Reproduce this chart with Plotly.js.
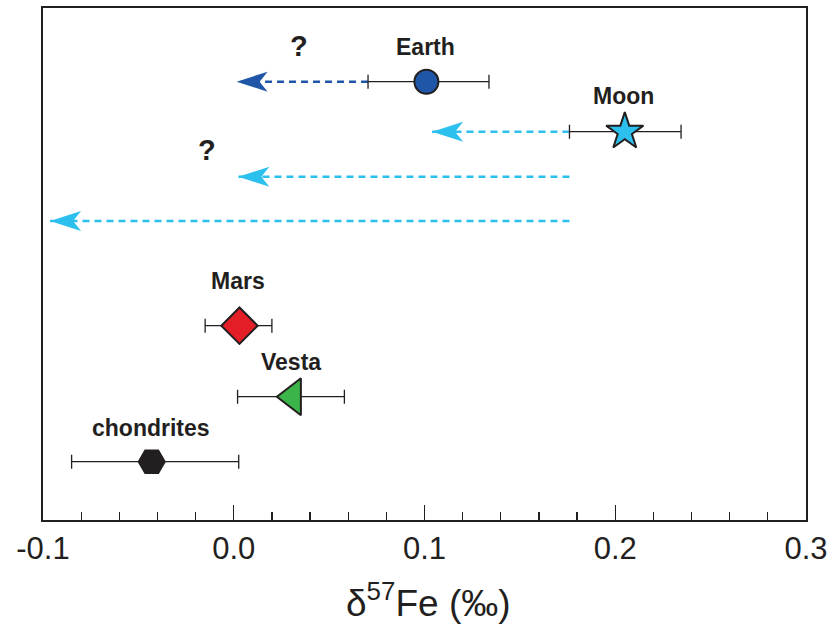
<!DOCTYPE html>
<html><head><meta charset="utf-8">
<script src="https://cdn.plot.ly/plotly-3.0.1.min.js"></script>
<style>body{margin:0;background:#fff}</style>
</head><body><div id="chart" style="width:832px;height:635px"></div>
<script>
// Bodies with measured δ57Fe and error bars
const bodies = ['Earth', 'Moon', 'Mars', 'Vesta', 'chondrites'];
const bodyValue = [0.101, 0.205, 0.003, 0.031, -0.043];
const errMinus = [0.0306, 0.029, 0.018, 0.029, 0.042];
const errPlus = [0.0328, 0.0295, 0.017, 0.027, 0.0456];
const bodyRow = [73.7, 123.7, 317.7, 388.7, 453.7];
const bodyColor = ['#1f56a8', '#2bc0ee', '#e31e26', '#3bb44a', '#231f20'];
const bodySymbol = ['circle', 'star', 'diamond', 'triangle-left', 'hexagon2'];
const bodySize = [24, 28, 28, 32, 26];

// Dashed arrows (possible shifts)
const arrowFrom = [0.0704, 0.176, 0.176, 0.176];
const arrowTo = [0.0015, 0.104, 0.0024, -0.0963];
const arrowRow = [73.7, 123.7, 168.7, 213];
const arrowColor = ['#1f56a8', '#2bc0ee', '#2bc0ee', '#2bc0ee'];

// Question marks
const qX = [0.034, -0.014];
const qRow = [73.7, 168.7];
const qShift = [36, 27];

// Axis ticks and title
const tickVals = [-0.1, 0.0, 0.1, 0.2, 0.3];
const tickText = ['-0.1', '0.0', '0.1', '0.2', '0.3'];
const xTitle = 'δ<sup>57</sup>Fe (‰)';

const traces = [];
for (let i = 0; i < arrowFrom.length; i++) {
  traces.push({
    type: 'scatter', mode: 'lines',
    x: [arrowFrom[i], arrowTo[i]], y: [arrowRow[i], arrowRow[i]],
    line: {color: arrowColor[i], width: 2.6, dash: '7px,5px'},
    hoverinfo: 'skip', showlegend: false
  });
}
for (let i = 0; i < bodies.length; i++) {
  traces.push({
    type: 'scatter', mode: 'markers',
    x: [bodyValue[i]], y: [bodyRow[i]], name: bodies[i],
    error_x: {type: 'data', symmetric: false, array: [errPlus[i]], arrayminus: [errMinus[i]],
              color: '#231f20', thickness: 1.3, width: 7},
    marker: {symbol: bodySymbol[i], size: bodySize[i], color: bodyColor[i],
             line: {color: '#231f20', width: 2}},
    showlegend: false
  });
}

const shapes = arrowTo.map((t, i) => ({
  type: 'path', xref: 'x', yref: 'y',
  xsizemode: 'pixel', ysizemode: 'pixel',
  xanchor: t, yanchor: arrowRow[i],
  path: 'M0,0 L31,10 L23,0 L31,-10 Z',
  fillcolor: arrowColor[i], line: {width: 0}
}));

const annotations = [];
const labelShift = [35, 36, 45, 35, 34];
for (let i = 0; i < bodies.length; i++) {
  annotations.push({
    x: bodyValue[i], y: bodyRow[i], xref: 'x', yref: 'y', text: '<b>' + bodies[i] + '</b>',
    showarrow: false, yshift: labelShift[i], xshift: (i === 3 ? -2 : -1),
    font: {family: 'Liberation Sans, Arial, sans-serif', size: 23, color: '#231f20'}
  });
}
for (let i = 0; i < qX.length; i++) {
  annotations.push({
    x: qX[i], y: qRow[i], xref: 'x', yref: 'y', text: '<b>?</b>', showarrow: false,
    yshift: qShift[i], font: {family: 'Liberation Sans, Arial, sans-serif', size: 29, color: '#231f20'}
  });
}
annotations.push({
  xref: 'paper', yref: 'paper', x: 0.505, y: -0.158, xanchor: 'center', yanchor: 'middle',
  text: xTitle, showarrow: false,
  font: {family: 'Liberation Sans, Arial, sans-serif', size: 37, color: '#231f20'}
});

const layout = {
  width: 832, height: 635,
  margin: {l: 43, r: 26, t: 8, b: 115},
  paper_bgcolor: '#fff', plot_bgcolor: '#fff',
  showlegend: false,
  xaxis: {
    range: [-0.1, 0.3], showgrid: false, zeroline: false,
    showline: true, linecolor: '#231f20', linewidth: 2, mirror: true,
    tickmode: 'array', tickvals: tickVals, ticktext: tickText,
    ticks: 'inside', ticklen: 15, tickwidth: 1.3, tickcolor: '#231f20',
    minor: {dtick: 0.02, ticks: 'inside', ticklen: 8, tickwidth: 1.3, tickcolor: '#231f20'},
    tickfont: {family: 'Liberation Sans, Arial, sans-serif', size: 31, color: '#231f20'},
    ticklabelstandoff: 0
  },
  yaxis: {
    range: [512, 0], showgrid: false, zeroline: false, showticklabels: false, ticks: '',
    showline: true, linecolor: '#231f20', linewidth: 2, mirror: true
  },
  shapes: shapes,
  annotations: annotations
};

Plotly.newPlot('chart', traces, layout, {displayModeBar: false, staticPlot: true});
</script></body></html>
